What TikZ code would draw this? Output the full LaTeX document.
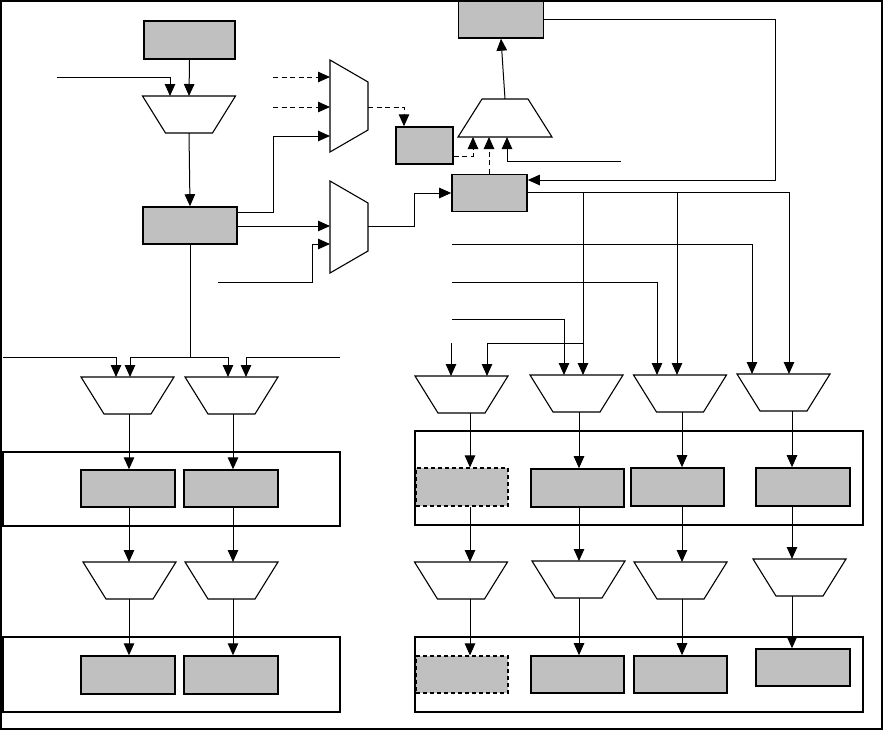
\documentclass[tikz,border=0pt]{standalone}
\usetikzlibrary{arrows.meta}
\definecolor{boxgray}{RGB}{192,192,192}
\tikzset{
  ln/.style={line width=1pt},
  arr/.style={line width=1pt,-{Triangle[length=12pt,width=10.5pt]}},
  darr/.style={arr,dash pattern=on 5pt off 3.5pt},
  gbox/.style={draw,fill=boxgray,line width=1.6pt,inner sep=0pt,minimum width=94pt,minimum height=37pt},
  dbox/.style={gbox,line width=1.1pt,dash pattern=on 4pt off 3pt},
  grp/.style={draw,line width=1.3pt,inner sep=0pt},
  muxst/.style={draw,fill=white,line width=1.1pt,line join=miter},
  muxD/.pic={\draw[muxst] (-46.5,0) -- (46.5,0) -- (23.5,37) -- (-23.5,37) -- cycle;
    \coordinate (-top) at (0,0); \coordinate (-bot) at (0,37);},
  muxU/.pic={\draw[muxst] (-23,0) -- (23,0) -- (47,38) -- (-47,38) -- cycle;
    \coordinate (-top) at (0,0); \coordinate (-bot) at (0,38);},
  muxV/.pic={\draw[muxst] (0,-46) -- (38,-24) -- (38,24) -- (0,46) -- cycle;
    \coordinate (-w) at (0,0); \coordinate (-e) at (38,0);}
}
\begin{document}
\begin{tikzpicture}[x=1pt,y=-1pt]
\useasboundingbox (0,0) rectangle (884,732);
\draw[line width=2pt] (1,1) rectangle (882,729);

% group boxes
\node[grp,minimum width=337pt,minimum height=74pt] (GL1) at (171.5,489) {};
\node[grp,line width=1.6pt,minimum width=337pt,minimum height=75pt] (GL2) at (171.5,674.5) {};
\node[grp,minimum width=448pt,minimum height=94pt] (GR1) at (639,478) {};
\node[grp,line width=1.6pt,minimum width=448pt,minimum height=75pt] (GR2) at (639,674.5) {};

% muxes
\pic (mux1) at (189,96) {muxD};
\pic (ML1) at (127.5,377) {muxD};
\pic (ML2) at (231.5,377) {muxD};
\pic (ML3) at (129.5,562) {muxD};
\pic (ML4) at (231.5,562) {muxD};
\pic (MR1) at (461.5,376) {muxD};
\pic (MR2) at (576.5,375) {muxD};
\pic (MR3) at (680,375) {muxD};
\pic (MR4) at (783.5,374) {muxD};
\pic (MR5) at (461,562) {muxD};
\pic (MR6) at (578.5,561) {muxD};
\pic (MR7) at (680.5,562) {muxD};
\pic (MR8) at (799.5,559) {muxD};
\pic (mux2) at (330,106) {muxV};
\pic (mux3) at (330,227) {muxV};
\pic (mux4) at (505,99) {muxU};

% boxes
\node[gbox,minimum width=91pt,minimum height=38pt] (A) at (189.5,40) {};
\node[gbox] (B) at (190,225.5) {};
\node[gbox,line width=1.4pt,minimum width=57pt] (C) at (424.5,145.5) {};
\node[gbox,minimum width=75pt] (D) at (489.5,193) {};
\node[gbox,line width=1.4pt,minimum width=85pt] (E) at (501,19.5) {};
\node[gbox,line width=1.4pt] (LB1) at (128,488.5) {};
\node[gbox,line width=1.4pt] (LB2) at (231,488.5) {};
\node[gbox,line width=1.4pt,minimum height=38pt] (LB3) at (128,675) {};
\node[gbox,line width=1.4pt,minimum height=38pt] (LB4) at (231,675) {};
\node[dbox,minimum width=92pt,minimum height=38pt] (RB1) at (462,487) {};
\node[gbox,minimum width=93pt,minimum height=38pt] (RB2) at (577.5,488) {};
\node[gbox,minimum width=93pt,minimum height=38pt] (RB3) at (677.5,487) {};
\node[gbox,minimum height=38pt] (RB4) at (803,487) {};
\node[dbox,minimum width=92pt] (RB5) at (462,674.5) {};
\node[gbox,minimum width=93pt] (RB6) at (577.5,674.5) {};
\node[gbox,minimum width=93pt] (RB7) at (680.5,674.5) {};
\node[gbox,line width=1.4pt] (RB8) at (803,667.5) {};

% free ends
\coordinate (in1) at (57,77);
\coordinate (in2) at (218,282);
\coordinate (in3) at (621,161);
\coordinate (d1) at (273,77);
\coordinate (d2) at (273,107);
\coordinate (J) at (190,357);
\coordinate (busL) at (3,357);
\coordinate (busR) at (340,357);
\coordinate (h1) at (452,244);
\coordinate (h2) at (452,282);
\coordinate (h3) at (452,319);
\coordinate (v1) at (451,343);
\coordinate (k1) at (583,192);
\coordinate (k2) at (677,192);
\coordinate (k3) at (583,343);

% top-left
\draw[arr] (A.south) -- (mux1-top);
\draw[arr] (in1) -| (170,0 |- mux1-top);
\draw[arr] (mux1-bot) -- (B.north);
\draw[arr] (B.east |- 0,212) -- (273,212) |- (mux2-w |- 0,136);
\draw[darr] (d1) -- (mux2-w |- d1);
\draw[darr] (d2) -- (mux2-w |- d2);
\draw[darr] (mux2-e |- 0,107) -| (404,0 |- C.north);
\draw[arr] (B.east |- 0,226) -- (mux3-w |- 0,226);
\draw[arr] (in2) -- (312,282) |- (mux3-w |- 0,244);
\draw[arr] (mux3-e |- 0,226) -- (414,226) |- (D.west);

% top-right
\draw[darr] (C.east |- 0,156) -| (473,0 |- mux4-bot);
\draw[darr] (D.north -| 489,0) -- (489,0 |- mux4-bot);
\draw[arr] (in3) -| (507,0 |- mux4-bot);
\draw[arr] (mux4-top) -- (E.south);
\draw[arr] (E.east |- 0,19) -- (775,19) |- (D.east |- 0,180);
\draw[arr] (D.east |- 0,192) -| (789,0 |- MR4-top);
\draw[arr] (k1) -- (583,0 |- MR2-top);
\draw[arr] (k2) -- (677,0 |- MR3-top);
\draw[arr] (k3) -| (487,0 |- MR1-top);
\draw[arr] (v1) -- (451,0 |- MR1-top);
\draw[arr] (h1) -| (752,0 |- MR4-top);
\draw[arr] (h2) -| (657,0 |- MR3-top);
\draw[arr] (h3) -| (564,0 |- MR2-top);

% left bus
\draw[ln] (B.south) -- (J);
\draw[arr] (busL) -| (116,0 |- ML1-top);
\draw[arr] (J) -| (130,0 |- ML1-top);
\draw[arr] (J) -| (228,0 |- ML2-top);
\draw[arr] (busR) -| (246,0 |- ML2-top);

% columns
\foreach \xx/\ma/\ba/\mb/\bb in {129/ML1/LB1/ML3/LB3, 233/ML2/LB2/ML4/LB4, 470/MR1/RB1/MR5/RB5, 579/MR2/RB2/MR6/RB6, 682/MR3/RB3/MR7/RB7, 792/MR4/RB4/MR8/RB8}{
  \draw[arr] (\ma-bot -| \xx,0) -- (\ba.north -| \xx,0);
  \draw[arr] (\ba.south -| \xx,0) -- (\mb-top -| \xx,0);
  \draw[arr] (\mb-bot -| \xx,0) -- (\bb.north -| \xx,0);
}
\end{tikzpicture}
\end{document}
